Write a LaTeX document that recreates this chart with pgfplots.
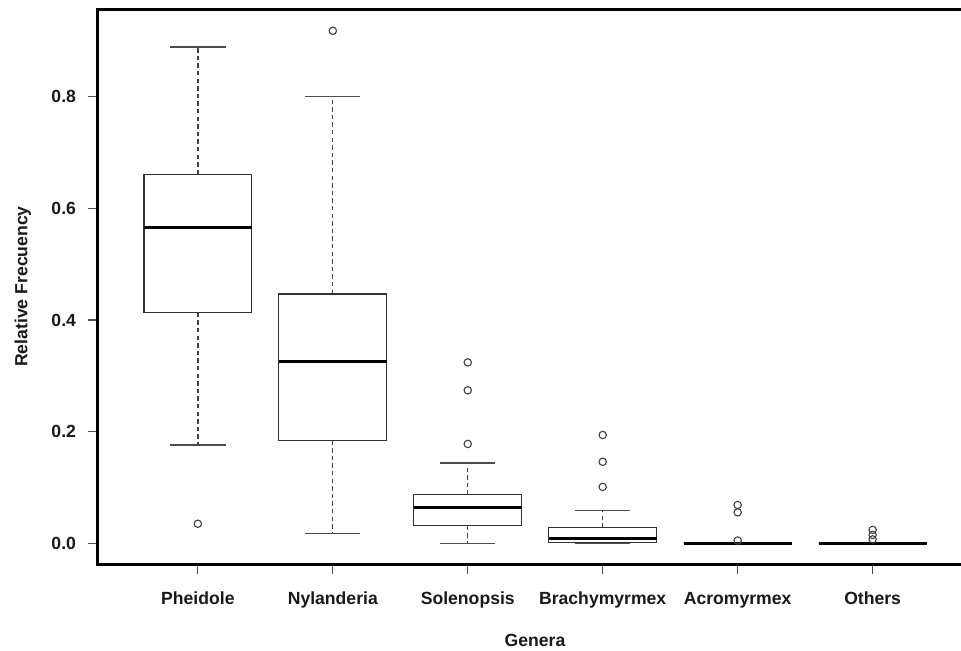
\documentclass[border=0pt]{standalone}
\usepackage{fontspec}
\setmainfont{Liberation Sans}
\usepackage{pgfplots}
\pgfplotsset{compat=1.18}
\usepgfplotslibrary{statistics}
\begin{document}
\begin{tikzpicture}
\begin{axis}[
  name=main,
  scale only axis, width=431.5pt, height=277.5pt,
  xmin=0.26, xmax=6.655, ymin=-0.0371, ymax=0.957,
  clip=false,
  axis lines=left,
  axis line style={-, line width=1.5pt, black, line cap=rect},
  tick align=outside,
  major tick length=5pt,
  tick style={black!70, line width=0.6pt},
  xtick={1,2,3,4,5,6},
  xticklabels={Pheidole,Nylanderia,Solenopsis,Brachymyrmex,Acromyrmex,Others},
  ytick={0,0.2,0.4,0.6,0.8},
  yticklabels={0.0,0.2,0.4,0.6,0.8},
  /pgf/number format/assume math mode=true,
  ticklabel style={font=\fontsize{8.8}{10.5}\selectfont\bfseries, text=black!90},
  xticklabel style={yshift=-5.5pt},
  yticklabel style={xshift=-2.5pt},
  label style={font=\fontsize{8.8}{10.5}\selectfont\bfseries, text=black!90},
  xlabel={Genera},
  ylabel={Relative Frecuency},
  xlabel style={at={(axis description cs:0.5064,-0.137)}, anchor=center},
  ylabel style={at={(axis description cs:-0.0870,0.5)}, anchor=center},
  boxplot/draw direction=y,
  boxplot/every box/.style={draw=black!80, line width=0.65pt},
  boxplot/every median/.style={draw=black, line width=1.6pt},
  boxplot/box extend=0.8,
  boxplot/whisker extend=0.41,
  boxplot/draw/lower whisker/.code={%
    \draw[black!75, line width=0.65pt, dash pattern=on 2.2pt off 1.6pt]
      (boxplot cs:\pgfplotsboxplotvalue{lower quartile}) --
      (boxplot cs:\pgfplotsboxplotvalue{lower whisker});
    \draw[black!70, line width=0.6pt]
      (boxplot whisker cs:\pgfplotsboxplotvalue{lower whisker},0) --
      (boxplot whisker cs:\pgfplotsboxplotvalue{lower whisker},1);
  },
  boxplot/draw/upper whisker/.code={%
    \draw[black!75, line width=0.65pt, dash pattern=on 2.2pt off 1.6pt]
      (boxplot cs:\pgfplotsboxplotvalue{upper quartile}) --
      (boxplot cs:\pgfplotsboxplotvalue{upper whisker});
    \draw[black!70, line width=0.6pt]
      (boxplot whisker cs:\pgfplotsboxplotvalue{upper whisker},0) --
      (boxplot whisker cs:\pgfplotsboxplotvalue{upper whisker},1);
  },
]
\pgfplotsset{outl/.style={mark=o, mark size=1.85pt, mark options={black!75, line width=0.55pt}, black}}
% Pheidole
\addplot[outl, boxplot prepared={draw position=1, lower whisker=0.176, lower quartile=0.413, median=0.565, upper quartile=0.661, upper whisker=0.889}]
  coordinates {(1,0.035)};
% Nylanderia
\addplot[outl, boxplot prepared={draw position=2, lower whisker=0.017, lower quartile=0.184, median=0.325, upper quartile=0.4465, upper whisker=0.800}]
  coordinates {(2,0.918)};
% Solenopsis
\addplot[outl, boxplot prepared={draw position=3, lower whisker=0.0, lower quartile=0.0315, median=0.064, upper quartile=0.087, upper whisker=0.144}]
  coordinates {(3,0.178) (3,0.274) (3,0.324)};
% Brachymyrmex
\addplot[outl, boxplot prepared={draw position=4, lower whisker=0.0, lower quartile=0.001, median=0.009, upper quartile=0.028, upper whisker=0.059}]
  coordinates {(4,0.101) (4,0.146) (4,0.194)};
% Acromyrmex
\addplot[outl, boxplot prepared={draw position=5, lower whisker=0.0, lower quartile=0.0, median=0.0, upper quartile=0.0, upper whisker=0.0}]
  coordinates {(5,0.005) (5,0.0555) (5,0.0686)};
% Others
\addplot[outl, boxplot prepared={draw position=6, lower whisker=0.0, lower quartile=0.0, median=0.0, upper quartile=0.0, upper whisker=0.0}]
  coordinates {(6,0.007) (6,0.015) (6,0.024)};
\draw[line width=1.5pt, black, line cap=rect] (rel axis cs:0,1) -- (rel axis cs:1.02,1);
\end{axis}
\pgfresetboundingbox
\path[use as bounding box] ([shift={(-49pt,-43pt)}]main.south west) rectangle ([shift={(431.5pt,282pt)}]main.south west);
\end{tikzpicture}
\end{document}
